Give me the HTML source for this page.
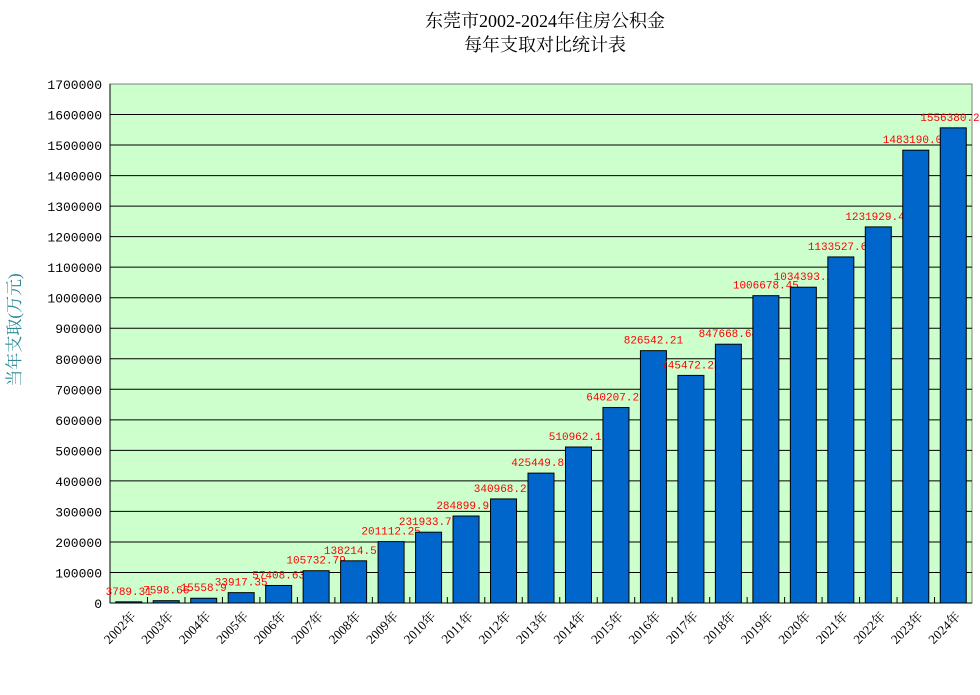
<!DOCTYPE html>
<html><head><meta charset="utf-8"><style>
body{margin:0;background:#fff;}
svg text{font-family:"Liberation Mono","Noto Sans CJK SC",monospace;}
</style></head><body>
<svg id="chart" width="980" height="690">
<text x="545" y="27" text-anchor="middle" font-size="18" fill="#000" style="font-family:'Liberation Serif','Noto Serif CJK SC',serif">东莞市2002-2024年住房公积金</text>
<text x="545" y="51" text-anchor="middle" font-size="18" fill="#000" style="font-family:'Liberation Serif','Noto Serif CJK SC',serif">每年支取对比统计表</text>
<text transform="translate(20,330) rotate(-90)" text-anchor="middle" font-size="17" fill="#2e8a9a" style="font-family:'Liberation Serif','Noto Serif CJK SC',serif">当年支取(万元)</text>
<g id="plot"></g>
</svg>
<script>
const categories=["2002年","2003年","2004年","2005年","2006年","2007年","2008年","2009年","2010年","2011年","2012年","2013年","2014年","2015年","2016年","2017年","2018年","2019年","2020年","2021年","2022年","2023年","2024年"];
const values=[3789.31,7598.66,15558.9,33917.35,57408.63,105732.79,138214.57,201112.25,231933.71,284899.97,340968.22,425449.89,510962.17,640207.23,826542.21,745472.23,847668.64,1006678.45,1034393.2,1133527.62,1231929.41,1483190.07,1556380.23];
const valueLabels=["3789.31","7598.66","15558.9","33917.35","57408.63","105732.79","138214.57","201112.25","231933.71","284899.97","340968.22","425449.89","510962.17","640207.23","826542.21","745472.23","847668.64","1006678.45","1034393.2","1133527.62","1231929.41","1483190.07","1556380.23"];
const yTicks=[0,100000,200000,300000,400000,500000,600000,700000,800000,900000,1000000,1100000,1200000,1300000,1400000,1500000,1600000,1700000];
const L=110,R=972,T=84,B=603,YMAX=1700000;
const y=v=>B-(v/YMAX)*(B-T);
const cw=(R-L)/categories.length;
const x=i=>L+cw*(i+0.5);
const NS="http://www.w3.org/2000/svg";
const g=document.getElementById('plot');
function mk(tag,attrs){const e=document.createElementNS(NS,tag);for(const k in attrs)e.setAttribute(k,attrs[k]);g.appendChild(e);return e;}
const bg=mk('rect',{x:L,y:T,width:R-L,height:B-T,fill:'#ccffcc',stroke:'#808080'});


yTicks.forEach(t=>{
  if(t>0&&t<YMAX){const gl=mk('line',{x1:L,x2:R,y1:y(t),y2:y(t),stroke:'#000','stroke-width':1});
  
  }
  const tl=mk('text',{x:L-8,y:y(t)+5,'text-anchor':'end','font-size':13,fill:'#000'});
  tl.textContent=t;
  
  
});
mk('line',{x1:L,x2:L,y1:T,y2:B,stroke:'#000'});
mk('line',{x1:L,x2:R,y1:B,y2:B,stroke:'#000'});
for(let i=1;i<categories.length;i++){const tk=mk('line',{x1:L+cw*i,x2:L+cw*i,y1:B,y2:B-6,stroke:'#000'});

}
const bw=26;
values.forEach((v,i)=>{
  const r=mk('rect',{x:x(i)-bw/2,y:y(v),width:bw,height:B-y(v),fill:'#0066cc',stroke:'#000','stroke-width':1});
  
  
  const t=mk('text',{x:x(i),y:y(v)-7,'text-anchor':'middle','font-size':11,fill:'#ff0000'});
  t.textContent=valueLabels[i];
  
  
  const c=mk('text',{transform:'translate('+(x(i)+8)+','+(B+14)+') rotate(-45)','text-anchor':'end','font-size':13,fill:'#000'});
  c.setAttribute('style',"font-family:'Liberation Serif','Noto Serif CJK SC',serif");
  c.textContent=categories[i];
  
  
});
</script>
</body></html>
